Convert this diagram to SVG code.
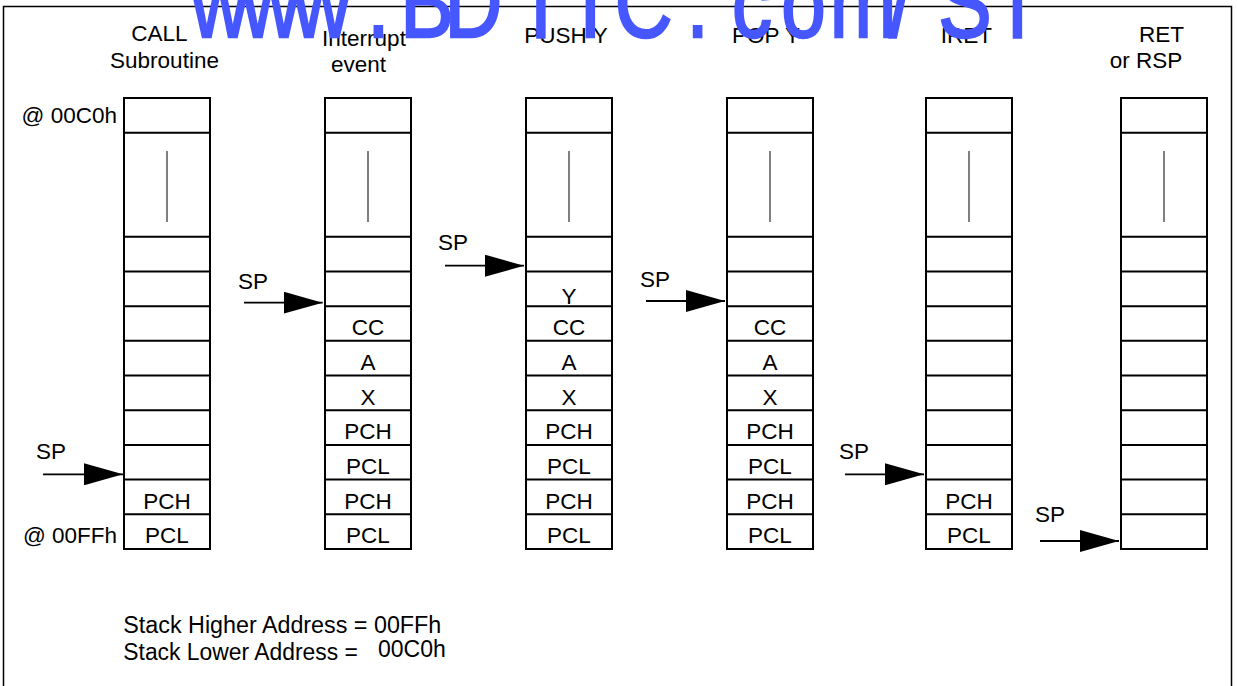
<svg xmlns="http://www.w3.org/2000/svg" xmlns:xlink="http://www.w3.org/1999/xlink" width="1238" height="686" viewBox="0 0 1238 686">
<style>
text{font-family:"Liberation Sans",Arial,sans-serif;font-size:22.5px;fill:#000}
.c{text-anchor:middle}
.e{text-anchor:end}
.n{font-size:23px}
.cell{fill:none;stroke:#000;stroke-width:2}
.gap{stroke:#555;stroke-width:1.5}
.arr{stroke:#000;stroke-width:1.8;fill:none;marker-end:url(#ah)}
.frame{fill:none;stroke:#000;stroke-width:1.5}
.wm{font-size:100px;fill:#4657FF;stroke:#4657FF;stroke-width:2.5;text-anchor:middle}
</style>
<defs>
<marker id="ah" markerUnits="userSpaceOnUse" markerWidth="40" markerHeight="22" refX="39" refY="11" orient="auto">
<path d="M0,0 L39,11 L0,22 z" fill="#000"/>
</marker>
<g id="stack">
<rect x="0" y="98" width="86" height="451" class="cell"/>
<path class="cell" d="M0 132.69H86M0 236.77H86M0 271.46H86M0 306.15H86M0 340.85H86M0 375.54H86M0 410.23H86M0 444.92H86M0 479.62H86M0 514.31H86"/>
<line x1="43" y1="151" x2="43" y2="222" class="gap"/>
</g>
</defs>
<rect width="1238" height="686" fill="#fff"/>
<path class="frame" d="M3.5 686V6.5H1231.5V686"/>

<g id="col-call">
<text class="c" x="159.5" y="41">CALL</text>
<text class="c" x="164.5" y="67.5">Subroutine</text>
<use xlink:href="#stack" x="124"/>
<text class="e" x="117" y="123">@ 00C0h</text>
<text class="e" x="117" y="543.3">@ 00FFh</text>
<text class="c" x="167" y="508.6">PCH</text>
<text class="c" x="167" y="543.3">PCL</text>
</g>

<g id="col-interrupt">
<text class="c" x="364" y="46">Interrupt</text>
<text class="c" x="358.5" y="72">event</text>
<use xlink:href="#stack" x="325"/>
<text class="c" x="368" y="335">CC</text>
<text class="c" x="368" y="370">A</text>
<text class="c" x="368" y="404.5">X</text>
<text class="c" x="368" y="439">PCH</text>
<text class="c" x="368" y="474">PCL</text>
<text class="c" x="368" y="508.6">PCH</text>
<text class="c" x="368" y="543.3">PCL</text>
</g>

<g id="col-push">
<text class="c" x="566" y="43.3">PUSH Y</text>
<use xlink:href="#stack" x="526"/>
<text class="c" x="569" y="304">Y</text>
<text class="c" x="569" y="335">CC</text>
<text class="c" x="569" y="370">A</text>
<text class="c" x="569" y="404.5">X</text>
<text class="c" x="569" y="439">PCH</text>
<text class="c" x="569" y="474">PCL</text>
<text class="c" x="569" y="508.6">PCH</text>
<text class="c" x="569" y="543.3">PCL</text>
</g>

<g id="col-pop">
<text class="c" x="766" y="43.3">POP Y</text>
<use xlink:href="#stack" x="727"/>
<text class="c" x="770" y="335">CC</text>
<text class="c" x="770" y="370">A</text>
<text class="c" x="770" y="404.5">X</text>
<text class="c" x="770" y="439">PCH</text>
<text class="c" x="770" y="474">PCL</text>
<text class="c" x="770" y="508.6">PCH</text>
<text class="c" x="770" y="543.3">PCL</text>
</g>

<g id="col-iret">
<text class="c" x="966.5" y="43.3">IRET</text>
<use xlink:href="#stack" x="926"/>
<text class="c" x="969" y="508.6">PCH</text>
<text class="c" x="969" y="543.3">PCL</text>
</g>

<g id="col-ret">
<text class="c" x="1161.5" y="41.7">RET</text>
<text class="c" x="1146" y="68">or RSP</text>
<use xlink:href="#stack" x="1121"/>
</g>

<g id="sp-labels">
<text x="36" y="459">SP</text>
<text x="238" y="289.3">SP</text>
<text x="438" y="250">SP</text>
<text x="640" y="287">SP</text>
<text x="839" y="458.5">SP</text>
<text x="1035" y="521.7">SP</text>
</g>

<g id="connectors">
<line class="arr" x1="43" y1="474.3" x2="123" y2="474.3"/>
<line class="arr" x1="244" y1="302.7" x2="322.7" y2="302.7"/>
<line class="arr" x1="445" y1="265.7" x2="524" y2="265.7"/>
<line class="arr" x1="646" y1="301" x2="725" y2="301"/>
<line class="arr" x1="845" y1="474.3" x2="924" y2="474.3"/>
<line class="arr" x1="1040" y1="541" x2="1119" y2="541"/>
</g>

<g id="notes">
<text class="n" x="123.3" y="633.3" textLength="318" lengthAdjust="spacingAndGlyphs">Stack Higher Address = 00FFh</text>
<text class="n" x="123.3" y="660" textLength="234.5" lengthAdjust="spacingAndGlyphs">Stack Lower Address =</text>
<text class="n" x="378" y="657">00C0h</text>
</g>

<g id="watermark" transform="scale(0.8,1)">
<text class="wm" x="275 338.75 402.5 473.1 533.75 591.9 676.25 738.1 804.4 871.9 940 1004.4 1078.75 1126.25 1206.25 1271.9" y="36.7">www.BDTIC.com/ST</text>
</g>
</svg>
